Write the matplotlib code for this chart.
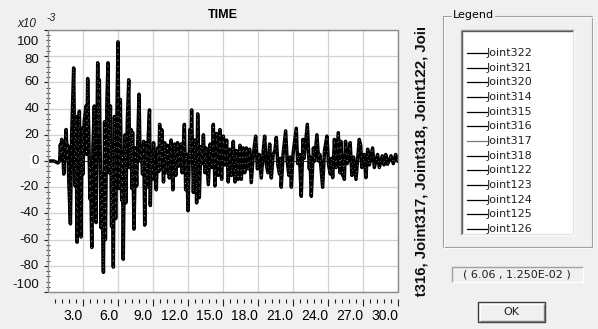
import numpy as np
import matplotlib
matplotlib.use("Agg")
import matplotlib.pyplot as plt
from matplotlib.patches import Rectangle
from matplotlib import transforms

plt.rcParams['font.family'] = ['Liberation Sans', 'DejaVu Sans']

# joint response peaks (time in s, value in 1e-3)
t_pk = [0.0, 0.5, 0.85, 1.0, 1.06, 1.12, 1.17, 1.26, 1.35, 1.46, 1.55, 1.65, 1.69, 1.80,
        1.92, 2.03, 2.2, 2.32, 2.4, 2.49, 2.6, 2.69, 2.83, 2.92, 3.0, 3.1, 3.26, 3.32,
        3.4, 3.6, 3.65, 3.75, 3.85, 3.97, 4.12, 4.2, 4.26, 4.33, 4.4, 4.48, 4.55, 4.62,
        4.75, 4.85, 4.92, 5.05, 5.14, 5.25, 5.35, 5.45, 5.5, 5.6, 5.7, 5.8, 5.9, 6.0,
        6.1, 6.2, 6.32, 6.38, 6.45, 6.55, 6.6, 6.67, 6.8, 6.92, 7.0, 7.12, 7.2, 7.25,
        7.37, 7.5, 7.6, 7.8, 7.9, 8.0, 8.1, 8.2, 8.29, 8.4, 8.5, 8.6, 8.7, 8.77,
        8.85, 8.95, 9.05, 9.15, 9.28, 9.4, 9.5, 9.57, 9.65, 9.75, 9.9, 10.0, 10.15, 10.25,
        10.4, 10.55, 10.7, 10.85, 10.95, 11.1, 11.2, 11.4, 11.5, 11.69, 11.8, 11.88, 12.0, 12.16,
        12.22, 12.31, 12.46, 12.6, 12.74, 12.83, 12.97, 13.1, 13.2, 13.32, 13.45, 13.55, 13.74, 13.9,
        14.05, 14.17, 14.31, 14.45, 14.6, 14.74, 14.88, 15.03, 15.17, 15.31, 15.45, 15.6, 15.74, 15.88,
        16.03, 16.15, 16.3, 16.45, 16.57, 16.72, 16.86, 17.0, 17.15, 17.28, 17.42, 17.6, 17.8, 17.95,
        18.1, 18.28, 18.45, 18.57, 18.7, 18.85, 19.0, 19.14, 19.3, 19.45, 19.57, 19.7, 19.85, 19.92,
        19.99, 20.15, 20.37, 20.5, 20.65, 20.75, 20.86, 21.0, 21.28, 21.4, 21.55, 21.71, 21.85, 21.95,
        22.23, 22.4, 22.45, 22.57, 22.75, 22.85, 23.05, 23.2, 23.3, 23.54, 23.7, 23.91, 24.05, 24.2,
        24.3, 24.4, 24.55, 24.7, 24.88, 25.02, 25.1, 25.25, 25.35, 25.4, 25.5, 25.65, 25.75, 25.9,
        26.05, 26.2, 26.4, 26.68, 26.8, 26.9, 27.1, 27.25, 27.4, 27.55, 27.82, 27.97, 28.25, 28.4,
        28.65, 28.8, 28.95, 29.1, 29.4, 29.6, 29.8, 30.0]
u_pk = [0, 0, -1.5, 0, 12.5, 4, 16.5, 8, -10, 10, 24, 2, 12, -20,
        -48, 20, 71, -19, 34, -62, 10, 38, -58, 25, -10, 30, 42, 5,
        63, -29, -5, -66, 10, 42, -47, 20, 75, 20, 62, 0, -51, -10,
        -85, 30, -60, 45, 75, -9, 42, -50, 10, -81, 34, -44, 30, 91,
        -21, 47, -30, 5, -75, 4, 20, -32, 30, 62, -5, 24, -21, 22,
        -52, 10, -19, 51, 0, 11, -10, 15, -49, 14, -20, 20, 39, -34,
        6, -14, 14, -5, -22, 10, -8, 28, -6, 24, -16, 14, -9, 12,
        -13, 16, -22, 13, -11, 14, -4, 13, -9, 28, -22, 5, -38, 24,
        0, 39, -24, 16, -32, 36, -28, 11, -2, 20, -9, 10, -18, 13,
        -5, 28, -19, 21, -11, 24, -14, 19, -3, 16, -16, 9, -11, 15,
        -16, 8, -14, 12, -14, 10, -9, 10, -6, 9, -16.5, 5, 19, -6,
        5, -13, 8, 19, -2, -9, 13, -13, 5, 8, 18, -3, -10, 2,
        -20, 5, 23, 0, -11, 3, -20, 5, 25, -2, 5, -27, 16.5, 2,
        28, -6, 3, -27, 10, 0, 20, 0, 5, -20, 8, 19, -3, -10,
        2, -12.7, 16.5, -5, 21.6, -9, 15, -11, 0, -14, 15, -2, 3, 14,
        -11, 3, -14, 16.5, 12, -5, 5, -12.7, 9, -3, 10, -5, 5, -5,
        4, -3, 5, -2.5, 4, -2, 5, 0]

y_ticks = [100, 80, 60, 40, 20, 0, -20, -40, -60, -80, -100]
y_label_at = [91, 77, 60, 40, 20, 0, -20, -40, -60, -80, -95]
x_ticks = [3, 6, 9, 12, 15, 18, 21, 24, 27, 30]
x_labels = ["3.0", "6.0", "9.0", "12.0", "15.0", "18.0", "21.0", "24.0", "27.0", "30.0"]
joints = ["Joint322", "Joint321", "Joint320", "Joint314", "Joint315", "Joint316", "Joint317",
          "Joint318", "Joint122", "Joint123", "Joint124", "Joint125", "Joint126"]
joint_colors = ["black"] * 6 + ["#7a7a7a"] + ["black"] * 6

W, H = 598, 329
BG = '#f0f0f0'
fig = plt.figure(figsize=(W / 100, H / 100), dpi=100, facecolor=BG)

# overlay in pixel coords for the dialog parts
ui = fig.add_axes([0, 0, 1, 1])
ui.set_xlim(0, W)
ui.set_ylim(H, 0)
ui.axis('off')

ax = fig.add_axes([48 / W, 1 - 292 / H, 350 / W, 262 / H])
ax.set_facecolor('white')
ax.set_xlim(0, 30)
ax.set_ylim(-100, 100)

ax.set_xticks(x_ticks)
ax.set_xticklabels(x_labels, fontsize=7.8)
ax.set_xticks([round(0.6 * i, 1) for i in range(1, 50) if i % 5], minor=True)
ax.set_yticks(y_ticks)
ax.set_yticks(np.arange(-96, 100, 4), minor=True)
ax.grid(True, which='major', color='#d2d2d2', lw=0.9)
ax.set_axisbelow(True)
for s in ax.spines.values():
    s.set_visible(False)
ax.spines['bottom'].set_position(('outward', 5))
ax.spines['bottom'].set_visible(True)
ax.spines['bottom'].set_color('none')
ax.tick_params(axis='x', which='major', direction='out', length=5, width=0.8,
               color='#202020', pad=2)
ax.tick_params(axis='x', which='minor', direction='out', length=2.8, width=0.8,
               color='#202020')
ax.tick_params(axis='y', which='major', direction='out', length=3, width=0.8,
               color='#202020', labelleft=False)
ax.tick_params(axis='y', which='minor', direction='inout', length=2.5, width=0.7,
               color='#404040')
plt.setp(ax.get_xticklabels(), ha='right')

ax.add_patch(Rectangle((0, 0), 1, 1, transform=ax.transAxes, fill=False,
                       ec='#8a8a8a', lw=1, clip_on=False, zorder=5))

lab_tr = transforms.offset_copy(ax.get_yaxis_transform(), fig=fig, x=-9, y=0, units='dots')
for v, p in zip(y_ticks, y_label_at):
    t = ax.text(0, p, str(v), transform=lab_tr, ha='right', va='center', fontsize=9.5,
                color='#101010', clip_on=False)
    if v == 0:
        t.set_bbox(dict(facecolor='white', edgecolor='none', pad=1))

ax.axhline(0, color='#303030', lw=0.7, zorder=2)
ax.plot(t_pk, u_pk, color='black', lw=2.5, zorder=3)
ax.plot(t_pk, u_pk, color='white', lw=0.4, dashes=(1.2, 10), zorder=4)

# titles
ui.text(223, 15, "TIME", fontsize=9, fontweight='bold', ha='center', va='center')
ui.text(17, 24, "x10", fontsize=8.5, style='italic', ha='left', va='center', color='#202020')
ui.text(46, 18, "-3", fontsize=7.5, style='italic', ha='left', va='center', color='#202020')

# side label, cut off at both ends like the dialog does
ui.text(422, 327, "Joint316, Joint317, Joint318, Joint122, Joint123",
        rotation=90, rotation_mode='anchor', ha='left', va='center',
        fontsize=10.8, fontweight='bold', color='#101010', zorder=1)
ui.add_patch(Rectangle((404, 0), 34, 28, facecolor=BG, edgecolor='none', zorder=2))
ui.add_patch(Rectangle((404, 298), 34, 31, facecolor=BG, edgecolor='none', zorder=2))


def edge(x0, y0, x1, y1, tl, br, lw=1.0):
    ui.plot([x0, x0, x1], [y1, y0, y0], color=tl, lw=lw, solid_capstyle='butt', zorder=3)
    ui.plot([x0, x1, x1], [y1, y1, y0], color=br, lw=lw, solid_capstyle='butt', zorder=3)


# legend group box
edge(442.5, 15.5, 591.5, 246.5, '#a0a0a0', '#a0a0a0', 0.8)
edge(443.5, 16.5, 592.5, 247.5, 'white', 'white', 0.6)
ui.text(453, 15, "Legend", fontsize=8, family='DejaVu Sans', ha='left', va='center',
        zorder=4, bbox=dict(facecolor=BG, edgecolor='none', pad=1))

ui.add_patch(Rectangle((461, 30), 113, 205, facecolor='white', edgecolor='none', zorder=3))
edge(461, 30, 574, 235, '#a0a0a0', '#ffffff', 1.0)
edge(462, 31, 573, 234, '#5a5a5a', '#e3e3e3', 1.0)

row_y = np.linspace(53, 229, len(joints))
for name, c, yy in zip(joints, joint_colors, row_y):
    ui.plot([467, 487], [yy, yy], color=c, lw=0.9, zorder=4)
    ui.text(487, yy, name, fontsize=8, family='DejaVu Sans', ha='left', va='center',
            color='#202020', zorder=4)

# cursor value box
edge(452, 267, 583, 282, '#a0a0a0', '#ffffff', 1.0)
ui.text(517, 274.5, "( 6.06 , 1.250E-02 )", fontsize=8, family='DejaVu Sans',
        ha='center', va='center', color='#202020')

# OK button
ui.add_patch(Rectangle((478, 302), 67, 20, facecolor=BG, edgecolor='#3c3c3c', lw=1, zorder=3))
edge(479.5, 303.5, 543.5, 320.5, 'white', '#7a7a7a', 1.0)
ui.text(511.5, 312, "OK", fontsize=8, family='DejaVu Sans', ha='center', va='center',
        color='#202020', zorder=4)

fig.savefig("out.png", dpi=100, facecolor=fig.get_facecolor())
